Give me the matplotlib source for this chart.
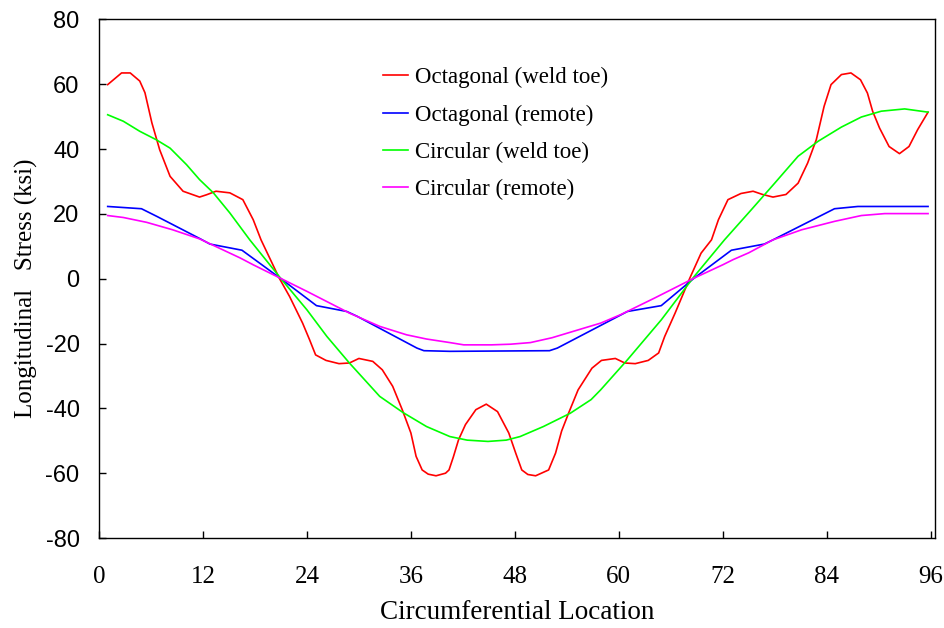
import matplotlib
matplotlib.use("Agg")
import matplotlib.pyplot as plt

plt.rcParams["axes.unicode_minus"] = False

# Octagonal (weld toe)
oct_toe_x = [1.0, 2.6, 3.6, 4.7, 5.3, 6.1, 7.0, 8.2, 9.7, 11.6, 12.4, 13.5, 15.1, 16.6, 17.8,
             18.7, 20.8, 22.0, 23.5, 24.3, 25.0, 26.2, 27.7, 28.9, 30.0, 31.6, 32.7, 33.9, 35.0,
             36.0, 36.6, 37.3, 38.0, 38.9, 40.0, 40.4, 40.9, 41.5, 42.3, 43.5, 44.7, 46.0, 47.3, 48.1,
             48.8, 49.5, 50.4, 51.9, 52.7, 53.4, 54.2, 55.3, 56.9, 58.0, 59.6, 60.7, 61.9, 63.4, 64.6,
             65.3, 66.5, 68.2, 69.5, 70.7, 71.5, 72.6, 74.1, 75.5, 76.6, 77.8, 79.3, 80.7, 81.8,
             82.8, 83.7, 84.5, 85.7, 86.8, 87.9, 88.7, 89.3, 90.1, 91.2, 92.4, 93.5, 94.5, 95.7]
oct_toe_y = [59.9, 63.5, 63.5, 61.0, 57.4, 48.1, 39.8, 31.6, 27.0, 25.2, 25.9, 27.0, 26.5, 24.4, 18.2,
             12.0, 0.2, -5.5, -13.7, -18.8, -23.5, -25.2, -26.2, -26.0, -24.6, -25.5, -28.1, -33.2, -40.4,
             -47.6, -54.8, -59.0, -60.3, -60.8, -60.0, -59.0, -55.0, -49.7, -45.0, -40.4, -38.7, -41.0, -47.6, -53.8,
             -59.0, -60.4, -60.8, -59.0, -53.8, -47.0, -41.5, -34.3, -27.6, -25.2, -24.6, -26.0, -26.2, -25.2, -22.9,
             -17.8, -10.6, 0.2, 7.9, 12.0, 18.2, 24.4, 26.3, 27.0, 26.0, 25.2, 26.0, 29.5, 35.7,
             42.9, 53.2, 59.9, 63.0, 63.5, 61.4, 57.3, 51.7, 46.5, 40.8, 38.6, 40.8, 46.0, 51.4]

# Octagonal (remote)
oct_rem_x = [1.0, 4.9, 6.7, 11.7, 12.8, 16.5, 20.9, 25.1, 28.6, 29.8, 36.7, 37.5, 40.5, 52.0,
             52.9, 61.0, 64.9, 68.7, 73.0, 76.8, 77.8, 84.9, 87.6, 95.7]
oct_rem_y = [22.3, 21.6, 19.2, 12.3, 10.7, 8.8, 0.2, -8.3, -10.1, -11.6, -21.4, -22.2, -22.4, -22.2,
             -21.4, -10.1, -8.3, 0.2, 8.8, 10.7, 12.0, 21.6, 22.3, 22.3]

# Circular (weld toe)
circ_toe_x = [1.0, 2.8, 4.7, 6.6, 8.2, 10.1, 11.6, 13.2, 15.1, 17.4, 21.1, 24.0, 26.3, 28.9, 32.4,
              35.1, 37.8, 40.5, 42.5, 44.9, 47.0, 48.6, 51.3, 54.4, 56.8, 57.9, 61.0, 64.9, 68.7,
              72.2, 75.3, 78.0, 80.7, 83.0, 85.7, 88.0, 90.3, 93.0, 95.7]
circ_toe_y = [50.6, 48.6, 45.5, 42.9, 40.3, 35.2, 30.6, 26.5, 20.3, 12.0, -0.3, -9.6, -17.8, -26.0, -36.3,
              -41.3, -45.6, -48.7, -49.8, -50.2, -49.8, -48.7, -45.6, -41.5, -37.3, -34.3, -25.0, -12.7, 0.7,
              12.0, 21.3, 29.5, 37.8, 42.4, 46.8, 49.9, 51.7, 52.4, 51.4]

# Circular (remote)
circ_rem_x = [1.0, 2.8, 5.5, 8.5, 11.6, 16.3, 17.8, 20.9, 24.0, 25.9, 28.9, 32.4, 35.5, 37.8, 40.5,
              42.1, 45.3, 47.5, 49.8, 52.3, 56.4, 57.9, 60.2, 64.1, 66.4, 68.7, 72.0, 73.2, 75.0,
              77.8, 81.1, 84.9, 88.0, 90.7, 95.7]
circ_rem_y = [19.5, 18.9, 17.4, 15.1, 12.3, 6.4, 4.3, 0.2, -3.9, -6.5, -10.6, -14.7, -17.3, -18.6, -19.7,
              -20.4, -20.4, -20.2, -19.7, -18.2, -14.9, -13.7, -11.1, -6.0, -2.9, 0.2, 4.3, 5.9, 8.0,
              12.0, 15.1, 17.7, 19.5, 20.1, 20.1]

serif = ["Liberation Serif", "DejaVu Serif"]
sans = ["Liberation Sans", "DejaVu Sans"]

fig = plt.figure(figsize=(9.45, 6.28), dpi=100)
ax = fig.add_axes([0.1048, 0.1433, 0.8846, 0.8257])

ax.plot(oct_toe_x, oct_toe_y, color="#FF0000", lw=1.2, label="Octagonal (weld toe)")
ax.plot(oct_rem_x, oct_rem_y, color="#0000FF", lw=1.2, label="Octagonal (remote)")
ax.plot(circ_toe_x, circ_toe_y, color="#00FF00", lw=1.2, label="Circular (weld toe)")
ax.plot(circ_rem_x, circ_rem_y, color="#FF00FF", lw=1.2, label="Circular (remote)")

ax.set_xlim(0, 96.5)
ax.set_ylim(-80, 80)
ax.set_xticks(range(0, 97, 12))
ax.set_yticks(range(-80, 81, 20))
ax.tick_params(axis="both", direction="in", length=5, width=1)
ax.tick_params(axis="x", pad=20)
ax.tick_params(axis="y", pad=14)
for lab in ax.get_xticklabels():
    lab.set_fontfamily(serif)
    lab.set_fontsize(18)
for lab in ax.get_yticklabels():
    lab.set_fontfamily(sans)
    lab.set_fontsize(17)
for sp in ax.spines.values():
    sp.set_linewidth(1.0)

ax.set_xlabel("Circumferential Location", fontsize=19.5, family=serif, labelpad=9)
ax.set_ylabel("Longitudinal   Stress (ksi)", fontsize=18, family=serif)
ax.yaxis.set_label_coords(-0.073, 0.482)

ax.legend(loc="upper left", bbox_to_anchor=(0.326, 0.93), frameon=False, borderpad=0,
          handlelength=1.1, handletextpad=0.3, labelspacing=0.7,
          prop={"family": serif, "size": 16.5})

fig.savefig("out.png", dpi=100)
